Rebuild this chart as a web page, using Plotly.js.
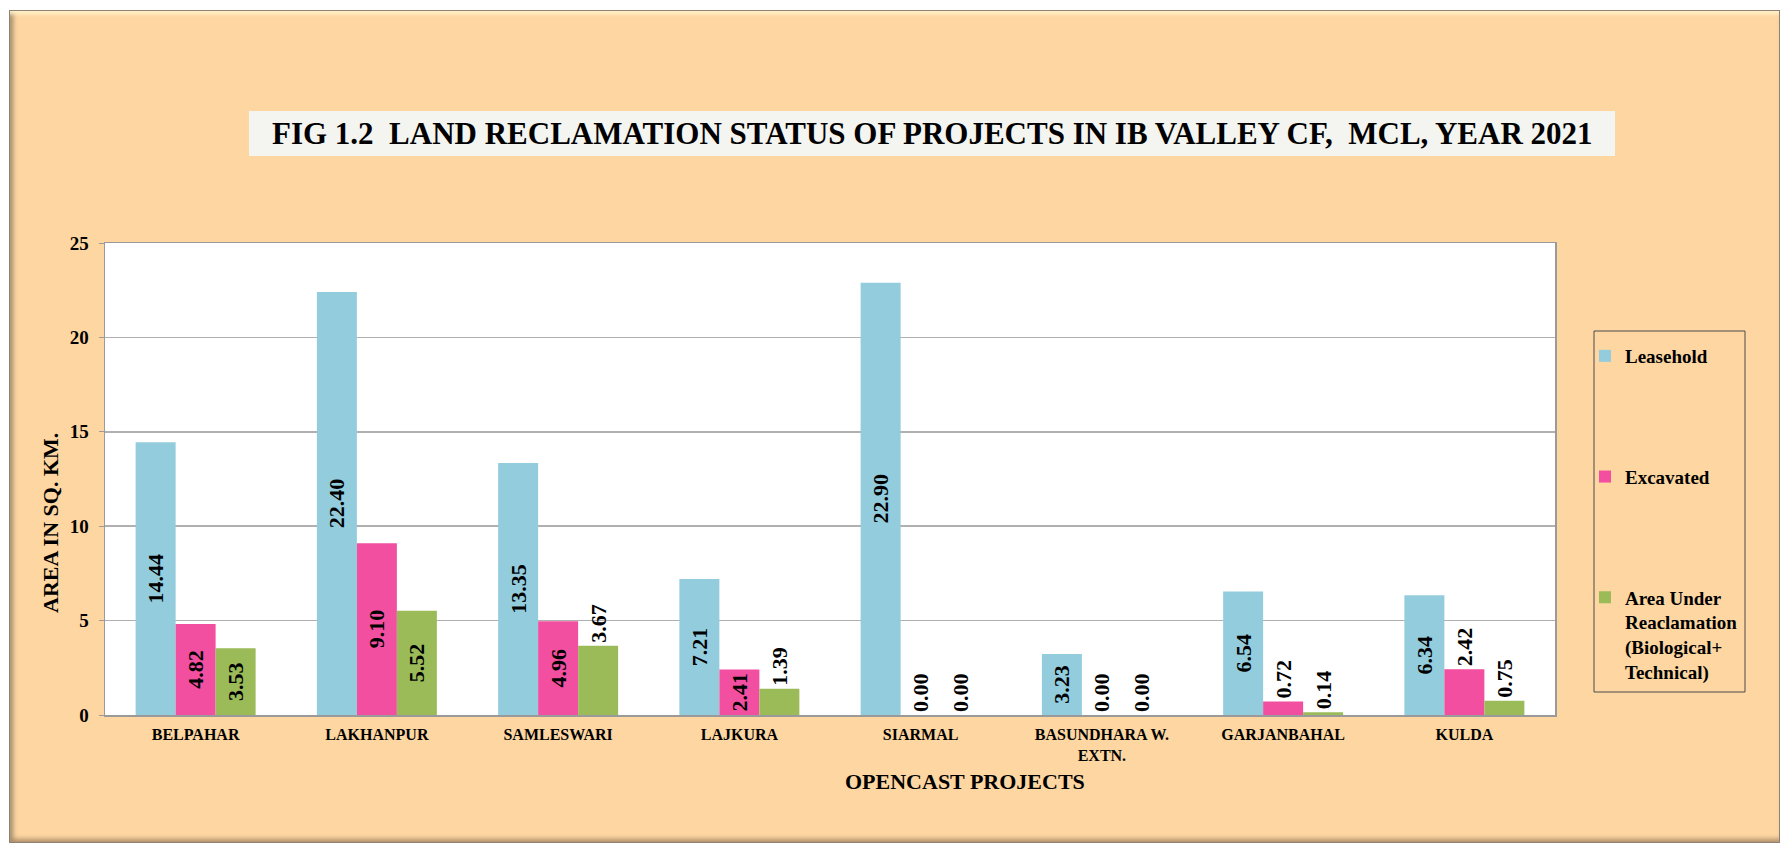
<!DOCTYPE html>
<html>
<head>
<meta charset="utf-8">
<script src="https://cdn.plot.ly/plotly-3.0.1.min.js"></script>
<style>
  html, body { margin: 0; padding: 0; background: #ffffff; }
  #frame {
    position: absolute; left: 9px; top: 10px; width: 1771px; height: 833px;
    box-sizing: border-box; background: #FDD6A2;
    border: 1px solid #8f8272;
    box-shadow: inset 0 6px 4px -3px #fff4cc, inset 6px 0 5px -3px #a48a6a, inset 0 -6px 5px -3px #b0906c;
  }
  #chart { position: absolute; left: 0; top: 0; width: 1780px; height: 845px; }
</style>
</head>
<body>
<div id="frame"></div>
<div id="chart"></div>
<script>
const categories = ['BELPAHAR', 'LAKHANPUR', 'SAMLESWARI', 'LAJKURA', 'SIARMAL', 'BASUNDHARA W.<br>EXTN.', 'GARJANBAHAL', 'KULDA'];
const leasehold = [14.44, 22.40, 13.35, 7.21, 22.90, 3.23, 6.54, 6.34];
const excavated = [4.82, 9.10, 4.96, 2.41, 0.00, 0.00, 0.72, 2.42];
const reclamation = [3.53, 5.52, 3.67, 1.39, 0.00, 0.00, 0.14, 0.75];
const seriesNames = ['Leasehold', 'Excavated', 'Area Under<br>Reaclamation<br>(Biological+<br>Technical)'];
const yTicks = [0, 5, 10, 15, 20, 25];
const titleText = 'FIG 1.2\u00a0\u00a0LAND RECLAMATION STATUS OF PROJECTS IN IB VALLEY CF,\u00a0\u00a0MCL, YEAR 2021';

const FONT = 'Liberation Serif, Times New Roman, serif';
const labelFont = {family: FONT, size: 22, color: '#000', weight: 'bold'};

function barTrace(name, values, color, group, positions) {
  return {
    type: 'bar', name: name, x: categories, y: values, legendgroup: group,
    marker: {color: color, line: {width: 0}},
    texttemplate: '%{y:.2f}', textangle: -90,
    textposition: positions, insidetextanchor: 'middle', constraintext: 'none',
    textfont: labelFont, insidetextfont: labelFont, outsidetextfont: labelFont,
    cliponaxis: false, hoverinfo: 'x+y'
  };
}

const data = [
  barTrace(seriesNames[0], leasehold, '#93CDDD', 'a',
    ['inside','inside','inside','inside','inside','inside','inside','inside']),
  barTrace(seriesNames[1], excavated, '#F24FA0', 'b',
    ['inside','inside','inside','inside','outside','outside','outside','outside']),
  barTrace(seriesNames[2], reclamation, '#9BBB59', 'c',
    ['inside','inside','outside','outside','outside','outside','outside','outside'])
];

const W = 1450, H = 472, L = 105, T = 243;
const px = v => (v - L) / W;
const py = v => (T + H - v) / H;

const layout = {
  width: 1780, height: 845,
  margin: {l: L, r: 1780 - L - W, t: T, b: 845 - T - H, pad: 0},
  paper_bgcolor: 'rgba(0,0,0,0)', plot_bgcolor: '#ffffff',
  barmode: 'group', bargap: 0.338, bargroupgap: 0,
  font: {family: FONT, color: '#000'},
  showlegend: true,
  legend: {
    x: px(1585), y: py(337), xanchor: 'left', yanchor: 'top',
    bgcolor: 'rgba(0,0,0,0)', borderwidth: 0,
    font: {family: FONT, size: 19, color: '#000', weight: 'bold'},
    traceorder: 'grouped', tracegroupgap: 93, valign: 'top'
  },
  xaxis: {
    type: 'category', showline: true, linecolor: '#9a9a9a', linewidth: 1.5, mirror: true,
    ticks: '', showgrid: false, ticklabelstandoff: 4,
    tickfont: {family: FONT, size: 16, color: '#000', weight: 'bold'}
  },
  yaxis: {
    range: [0, 25], tickvals: yTicks, ticktext: yTicks.map(String),
    showline: true, linecolor: '#9a9a9a', linewidth: 1.5, mirror: true,
    ticks: 'outside', ticklen: 5, tickcolor: '#9a9a9a', ticklabelstandoff: 6,
    showgrid: true, gridcolor: '#b0b0b0', gridwidth: 1.5, zeroline: false,
    tickfont: {family: FONT, size: 19, color: '#000', weight: 'bold'}
  },
  shapes: [
    {type: 'rect', xref: 'paper', yref: 'paper', x0: px(249), x1: px(1615), y0: py(156), y1: py(111),
     fillcolor: '#F4F4F0', line: {width: 0}, layer: 'below'},
    {type: 'rect', xref: 'paper', yref: 'paper', x0: px(1594), x1: px(1745), y0: py(692), y1: py(331),
     fillcolor: 'rgba(0,0,0,0)', line: {color: '#4a4a4a', width: 1}}
  ],
  annotations: [
    {xref: 'paper', yref: 'paper', x: px(932), y: py(133.5), xanchor: 'center', yanchor: 'middle',
     text: titleText, showarrow: false,
     font: {family: FONT, size: 31, color: '#000', weight: 'bold'}},
    {xref: 'paper', yref: 'paper', x: px(50), y: py(523), xanchor: 'center', yanchor: 'middle',
     text: 'AREA IN SQ. KM.', textangle: -90, showarrow: false,
     font: {family: FONT, size: 22, color: '#000', weight: 'bold'}},
    {xref: 'paper', yref: 'paper', x: px(965), y: py(781), xanchor: 'center', yanchor: 'middle',
     text: 'OPENCAST PROJECTS', showarrow: false,
     font: {family: FONT, size: 22, color: '#000', weight: 'bold'}}
  ]
};

Plotly.newPlot('chart', data, layout, {displayModeBar: false, staticPlot: true});
</script>
</body>
</html>
